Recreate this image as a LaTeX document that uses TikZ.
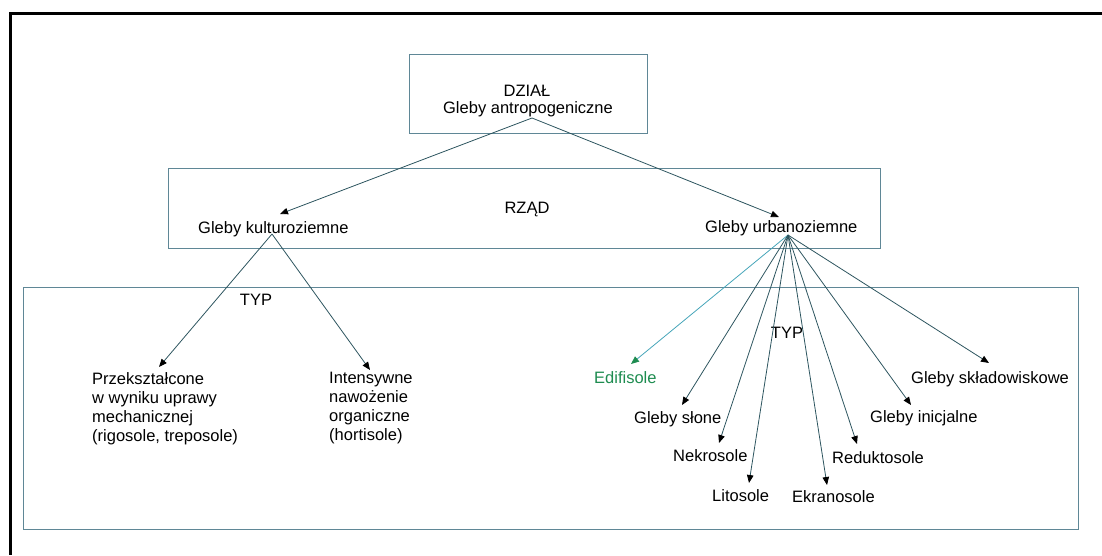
\documentclass[tikz,border=0pt]{standalone}
\usepackage{fontspec}
\setmainfont{Liberation Sans}
\usetikzlibrary{arrows.meta}
\definecolor{boxc}{RGB}{95,135,150}
\definecolor{linec}{RGB}{45,85,95}
\definecolor{edic}{RGB}{70,165,185}
\definecolor{edig}{RGB}{30,140,80}
\begin{document}
\begin{tikzpicture}[x=1pt,y=-1pt,
  lbl/.style={font=\fontsize{16.5}{19}\selectfont, text height=12pt, text depth=4pt, inner xsep=0pt, inner ysep=6pt, anchor=base west},
  multi/.style={font=\fontsize{16.5}{19}\selectfont, align=left, inner sep=0pt, anchor=north west},
  frame/.style={draw=boxc, line width=1.1pt, inner sep=0pt, anchor=north west},
  conn/.style={draw=linec, line width=0.8pt, -{Triangle[length=8pt,width=6.5pt,color=black]}},
  edconn/.style={draw=edic, line width=0.8pt, -{Triangle[length=8pt,width=6.5pt,color=edig]}}]
\useasboundingbox (0,0) rectangle (1102,555);
% outer frame
\draw[line width=3pt] (1102,13.5) -- (10.5,13.5) -- (10.5,555);
% boxes
\node[frame, minimum width=238pt, minimum height=79pt] (dzialbox) at (409,54) {};
\node[frame, minimum width=712pt, minimum height=80pt] (rzadbox) at (168,168) {};
\node[frame, minimum width=1055pt, minimum height=242pt] (typbox) at (23,287) {};
% texts
\node[lbl, anchor=base] (dzial) at (527,96) {DZIAŁ};
\node[lbl, anchor=base] (antro) at (528,113) {Gleby antropogeniczne};
\node[lbl, anchor=base] (rzad) at (527,213) {RZĄD};
\node[lbl] (kult) at (198,233) {Gleby kulturoziemne};
\node[lbl] (urb) at (705,232) {Gleby urbanoziemne};
\node[lbl, anchor=base] (typl) at (256,305) {TYP};
\node[lbl, anchor=base] (typr) at (787,338) {TYP};
\node[multi] (prz) at (92,372) {Przekształcone\\w wyniku uprawy\\mechanicznej\\(rigosole, treposole)};
\node[multi] (int) at (329,372) {Intensywne\\nawożenie\\organiczne\\(hortisole)};
\node[lbl, text=edig] (edi) at (594,383) {Edifisole};
\node[lbl] (sl) at (634,423) {Gleby słone};
\node[lbl] (nek) at (673,461) {Nekrosole};
\node[lbl] (lit) at (712,501) {Litosole};
\node[lbl] (ekr) at (792,502) {Ekranosole};
\node[lbl] (red) at (832,463) {Reduktosole};
\node[lbl] (ini) at (870,422) {Gleby inicjalne};
\node[lbl] (skl) at (911,383) {Gleby składowiskowe};
% connectors
\draw[conn] ([xshift=4pt,yshift=-5pt]antro.base) -- ([xshift=82pt,yshift=19pt]kult.base west);
\draw[conn] ([xshift=4pt,yshift=-5pt]antro.base) -- ([xshift=74pt,yshift=15pt]urb.base west);
\draw[conn] ([xshift=74pt,yshift=-1pt]kult.base west) -- ([xshift=67pt,yshift=5pt]prz.north west);
\draw[conn] ([xshift=74pt,yshift=-1pt]kult.base west) -- ([xshift=41pt,yshift=2pt]int.north west);
\draw[edconn] ([xshift=83pt,yshift=-3pt]urb.base west) -- ([xshift=37pt,yshift=19pt]edi.base west);
\draw[conn] ([xshift=83pt,yshift=-3pt]urb.base west) -- ([xshift=48pt,yshift=18pt]sl.base west);
\draw[conn] ([xshift=83pt,yshift=-3pt]urb.base west) -- ([xshift=46pt,yshift=18pt]nek.base west);
\draw[conn] ([xshift=83pt,yshift=-3pt]urb.base west) -- ([xshift=37pt,yshift=18pt]lit.base west);
\draw[conn] ([xshift=83pt,yshift=-3pt]urb.base west) -- ([xshift=35pt,yshift=17pt]ekr.base west);
\draw[conn] ([xshift=83pt,yshift=-3pt]urb.base west) -- ([xshift=25pt,yshift=19pt]red.base west);
\draw[conn] ([xshift=83pt,yshift=-3pt]urb.base west) -- ([xshift=41pt,yshift=17pt]ini.base west);
\draw[conn] ([xshift=83pt,yshift=-3pt]urb.base west) -- ([xshift=78pt,yshift=20pt]skl.base west);
\end{tikzpicture}
\end{document}
